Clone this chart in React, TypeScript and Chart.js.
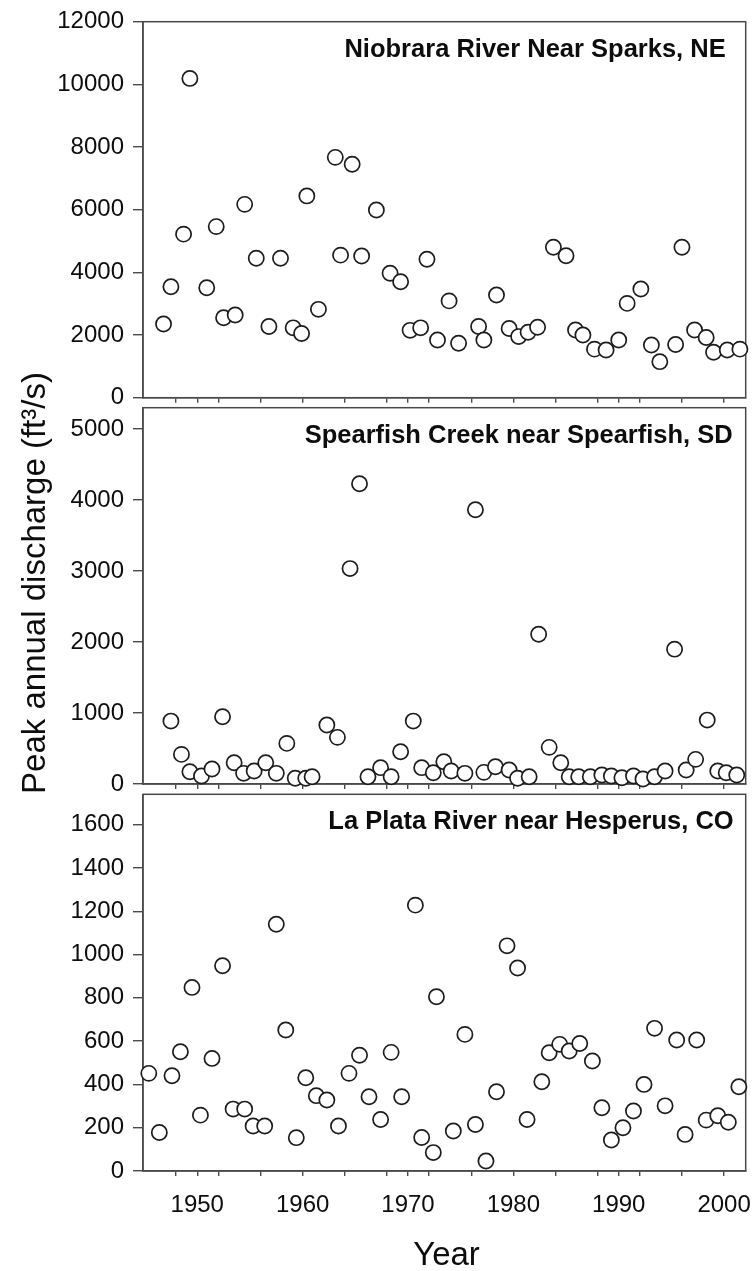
import React, { useEffect, useRef } from 'react';
import { Chart, registerables } from 'chart.js';

Chart.register(...registerables);

// ---------------- data ----------------
const X_MIN = 1944.85;
const X_MAX = 2002.05;
const X_TICKS = [1948, 1950, 1952, 1956, 1960, 1964, 1968, 1970, 1972, 1976, 1980, 1984, 1988, 1990, 1992, 1996, 2000];
const X_LABELED = [1950, 1960, 1970, 1980, 1990, 2000];

const niobraraYears = [1946.8, 1947.5, 1948.7, 1949.3, 1950.9, 1951.8, 1952.5, 1953.6, 1954.5, 1955.6, 1956.8, 1957.9, 1959.1, 1959.9, 1960.4, 1961.5, 1963.1, 1963.6, 1964.7, 1965.6, 1967.0, 1968.3, 1969.3, 1970.2, 1971.2, 1971.8, 1972.8, 1973.9, 1974.8, 1976.7, 1977.2, 1978.4, 1979.6, 1980.5, 1981.4, 1982.3, 1983.8, 1985.0, 1985.9, 1986.6, 1987.7, 1988.8, 1990.0, 1990.8, 1992.1, 1993.1, 1993.9, 1995.4, 1996.0, 1997.2, 1998.3, 1999.0, 2000.3, 2001.5];
const niobraraPeaks = [2350, 3540, 5220, 10190, 3510, 5460, 2550, 2640, 6170, 4450, 2270, 4450, 2230, 2050, 6440, 2820, 7670, 4550, 7450, 4520, 5990, 3970, 3700, 2150, 2230, 4420, 1840, 3090, 1740, 2270, 1840, 3280, 2210, 1950, 2090, 2250, 4800, 4530, 2160, 2000, 1550, 1520, 1840, 3010, 3470, 1680, 1150, 1700, 4800, 2160, 1920, 1450, 1520, 1550];

const spearfishYears = [1947.5, 1948.5, 1949.3, 1950.4, 1951.4, 1952.4, 1953.5, 1954.4, 1955.4, 1956.5, 1957.5, 1958.5, 1959.3, 1960.3, 1960.9, 1962.3, 1963.3, 1964.5, 1965.4, 1966.2, 1967.4, 1968.4, 1969.3, 1970.5, 1971.3, 1972.4, 1973.4, 1974.1, 1975.4, 1976.4, 1977.2, 1978.3, 1979.6, 1980.4, 1981.5, 1982.4, 1983.4, 1984.5, 1985.3, 1986.2, 1987.3, 1988.4, 1989.3, 1990.3, 1991.4, 1992.3, 1993.4, 1994.4, 1995.3, 1996.4, 1997.3, 1998.4, 1999.4, 2000.2, 2001.2];
const spearfishPeaks = [886, 417, 173, 112, 211, 947, 300, 150, 183, 300, 150, 572, 80, 80, 103, 830, 657, 3034, 4229, 103, 230, 103, 455, 886, 230, 159, 314, 183, 150, 3863, 164, 244, 197, 80, 103, 2110, 516, 300, 103, 103, 103, 127, 112, 89, 112, 70, 103, 183, 1899, 197, 347, 900, 183, 159, 127];

const laPlataYears = [1945.4, 1946.4, 1947.6, 1948.4, 1949.5, 1950.3, 1951.4, 1952.4, 1953.4, 1954.5, 1955.3, 1956.4, 1957.5, 1958.4, 1959.4, 1960.3, 1961.3, 1962.3, 1963.4, 1964.4, 1965.4, 1966.3, 1967.4, 1968.4, 1969.4, 1970.7, 1971.3, 1972.4, 1972.7, 1974.3, 1975.4, 1976.4, 1977.4, 1978.4, 1979.4, 1980.4, 1981.3, 1982.7, 1983.4, 1984.4, 1985.3, 1986.3, 1987.5, 1988.4, 1989.3, 1990.4, 1991.4, 1992.4, 1993.4, 1994.4, 1995.5, 1996.3, 1997.4, 1998.3, 1999.4, 2000.4, 2001.4];
const laPlataPeaks = [451, 178, 440, 551, 848, 258, 520, 948, 286, 286, 208, 208, 1140, 651, 154, 431, 348, 328, 208, 451, 535, 343, 238, 548, 343, 1228, 155, 85, 805, 185, 631, 215, 46, 366, 1040, 938, 238, 412, 546, 585, 554, 589, 508, 292, 143, 200, 277, 400, 659, 301, 605, 169, 605, 235, 255, 225, 389];

const PANEL_TITLES = ['Niobrara River Near Sparks, NE', 'Spearfish Creek near Spearfish, SD', 'La Plata River near Hesperus, CO'];
const Y_MAX = [12000, 5300, 1740];
const Y_TICKS = [
  [0, 2000, 4000, 6000, 8000, 10000, 12000],
  [0, 1000, 2000, 3000, 4000, 5000],
  [0, 200, 400, 600, 800, 1000, 1200, 1400, 1600],
];
const Y_TITLE = 'Peak annual discharge (ft³/s)';
const X_TITLE = 'Year';

// ---------------- layout ----------------
const W = 755;
const H = 1271;
const PLOT_LEFT = 143;
const PLOT_RIGHT = 750;
const PANEL_BOUNDS = [
  [21.7, 397.7],
  [407.7, 784],
  [794.3, 1171],
];
const TITLE_INSET = [20, 13, 12];
const X_AXIS_H = [10, 10, 60];
const FONT = '"Liberation Sans", Arial, Helvetica, sans-serif';
const AXIS_COLOR = '#4a4a4a';
const TEXT_COLOR = '#0d0d0d';

const framePlugin = {
  id: 'panelFrame',
  beforeDatasetsDraw(chart: any) {
    const { ctx, chartArea } = chart;
    ctx.save();
    ctx.strokeStyle = AXIS_COLOR;
    ctx.lineWidth = 1.5;
    ctx.strokeRect(chartArea.left, chartArea.top, chartArea.right - chartArea.left, chartArea.bottom - chartArea.top);
    ctx.restore();
  },
};

const panelTitlePlugin = {
  id: 'panelTitle',
  afterDraw(chart: any, _args: any, opts: any) {
    const { ctx, chartArea } = chart;
    ctx.save();
    ctx.font = `bold 25.5px ${FONT}`;
    ctx.fillStyle = TEXT_COLOR;
    ctx.textAlign = 'right';
    ctx.textBaseline = 'alphabetic';
    ctx.fillText(opts.text, chartArea.right - opts.inset, chartArea.top + 35);
    ctx.restore();
  },
};

const figureLabelsPlugin = {
  id: 'figureLabels',
  afterDraw(chart: any, _args: any, opts: any) {
    if (!opts.show) return;
    const { ctx } = chart;
    ctx.save();
    ctx.font = `33px ${FONT}`;
    ctx.fillStyle = TEXT_COLOR;
    ctx.textAlign = 'center';
    ctx.textBaseline = 'alphabetic';
    ctx.fillText(X_TITLE, (PLOT_LEFT + PLOT_RIGHT) / 2, 1265);
    ctx.translate(45, 583);
    ctx.rotate(-Math.PI / 2);
    ctx.fillText(Y_TITLE, 0, 0);
    ctx.restore();
  },
};

function makeConfig(i: number, xs: number[], ys: number[]): any {
  const [top, bottom] = PANEL_BOUNDS[i];
  const last = i === 2;
  const xh = X_AXIS_H[i];
  return {
    type: 'scatter',
    data: {
      datasets: [
        {
          data: xs.map((x, k) => ({ x, y: ys[k] })),
          pointStyle: 'circle',
          pointRadius: 7.6,
          pointBorderWidth: 1.7,
          pointBorderColor: '#1c1c1c',
          pointBackgroundColor: '#ffffff',
          showLine: false,
          clip: false,
        },
      ],
    },
    options: {
      responsive: false,
      animation: false,
      devicePixelRatio: 1,
      events: [],
      layout: {
        padding: { left: 0, right: W - PLOT_RIGHT, top, bottom: H - bottom - xh },
      },
      plugins: {
        legend: { display: false },
        tooltip: { enabled: false },
        title: { display: false },
        panelTitle: { text: PANEL_TITLES[i], inset: TITLE_INSET[i] },
        figureLabels: { show: last },
      },
      scales: {
        x: {
          type: 'linear',
          min: X_MIN,
          max: X_MAX,
          afterFit: (s: any) => {
            s.height = xh;
            s.paddingLeft = 0;
            s.paddingRight = 0;
          },
          afterBuildTicks: (s: any) => {
            s.ticks = X_TICKS.map((v) => ({ value: v }));
          },
          ticks: {
            display: last,
            autoSkip: false,
            maxRotation: 0,
            minRotation: 0,
            padding: 15,
            color: TEXT_COLOR,
            font: { family: FONT, size: 24 },
            callback: (v: any) => (X_LABELED.includes(v) ? String(v) : ''),
          },
          grid: { drawOnChartArea: false, drawTicks: true, tickLength: 5, color: AXIS_COLOR, lineWidth: 1.4 },
          border: { display: true, color: AXIS_COLOR, width: 1.5 },
        },
        y: {
          type: 'linear',
          min: 0,
          max: Y_MAX[i],
          afterFit: (s: any) => {
            s.width = PLOT_LEFT;
            s.paddingTop = 0;
            s.paddingBottom = 0;
          },
          afterBuildTicks: (s: any) => {
            s.ticks = Y_TICKS[i].map((v) => ({ value: v }));
          },
          ticks: {
            padding: 9,
            color: TEXT_COLOR,
            font: { family: FONT, size: 24 },
            callback: (v: any) => String(v),
          },
          grid: { drawOnChartArea: false, drawTicks: true, tickLength: 10, color: AXIS_COLOR, lineWidth: 1.4 },
          border: { display: true, color: AXIS_COLOR, width: 1.5 },
        },
      },
    },
    plugins: [framePlugin, panelTitlePlugin, figureLabelsPlugin],
  };
}

function Panel({ index, xs, ys }: { index: number; xs: number[]; ys: number[] }) {
  const ref = useRef<HTMLCanvasElement | null>(null);
  useEffect(() => {
    if (!ref.current) return;
    const chart = new Chart(ref.current, makeConfig(index, xs, ys));
    return () => chart.destroy();
  }, [index, xs, ys]);
  return (
    <canvas
      ref={ref}
      width={W}
      height={H}
      style={{ position: 'absolute', left: 0, top: 0, width: W, height: H }}
    />
  );
}

export default function App() {
  return (
    <div style={{ position: 'absolute', left: 0, top: 0, width: W, height: H, background: '#fff' }}>
      <Panel index={0} xs={niobraraYears} ys={niobraraPeaks} />
      <Panel index={1} xs={spearfishYears} ys={spearfishPeaks} />
      <Panel index={2} xs={laPlataYears} ys={laPlataPeaks} />
    </div>
  );
}
